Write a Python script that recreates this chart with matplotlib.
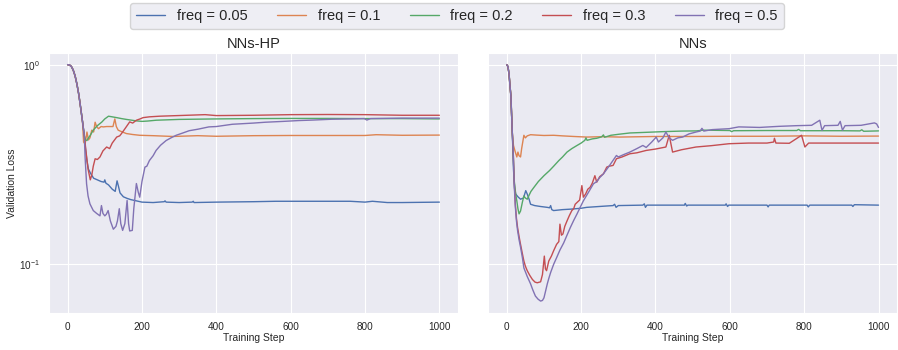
import matplotlib
matplotlib.use("Agg")
import matplotlib.pyplot as plt
import seaborn as sns
from matplotlib.ticker import NullFormatter

sns.set_style("darkgrid")
plt.rcParams["font.family"] = ["Liberation Sans", "DejaVu Sans"]

labels = ["freq = 0.05", "freq = 0.1", "freq = 0.2", "freq = 0.3", "freq = 0.5"]
colors = ["#4C72B0", "#DD8452", "#55A868", "#C44E52", "#8172B3"]
panel_titles = ["NNs-HP", "NNs"]

# ---------------- NNs-HP panel ----------------
hp_steps_005 = [0, 5, 10, 15, 20, 25, 30, 35, 40, 45, 48, 52, 56, 62, 70, 80, 90, 98, 100, 103, 110, 120, 128,
                133, 137, 141, 150, 160, 170, 185, 200, 230, 260, 262, 265, 300, 335, 338, 340, 400, 500, 560,
                600, 700, 760, 800, 820, 860, 900, 1000]
hp_loss_005 = [1.0, 0.997, 0.98, 0.94, 0.88, 0.80, 0.71, 0.61, 0.52, 0.44, 0.38, 0.33, 0.30, 0.285, 0.27, 0.265,
               0.26, 0.258, 0.265, 0.255, 0.25, 0.238, 0.232, 0.262, 0.245, 0.228, 0.218, 0.214, 0.211, 0.208,
               0.205, 0.204, 0.206, 0.208, 0.205, 0.204, 0.205, 0.207, 0.204, 0.205, 0.206, 0.207, 0.207, 0.207,
               0.207, 0.205, 0.207, 0.204, 0.204, 0.205]

hp_steps_01 = [0, 5, 10, 15, 20, 25, 30, 35, 40, 43, 47, 52, 56, 60, 65, 70, 74, 78, 83, 90, 96, 105, 115, 122,
               127, 131, 136, 145, 158, 175, 194, 230, 283, 350, 400, 500, 600, 700, 800, 830, 900, 1000]
hp_loss_01 = [1.0, 0.997, 0.98, 0.94, 0.88, 0.80, 0.71, 0.61, 0.52, 0.41, 0.40, 0.46, 0.42, 0.43, 0.47, 0.46,
              0.515, 0.49, 0.478, 0.49, 0.488, 0.49, 0.49, 0.49, 0.535, 0.49, 0.47, 0.462, 0.452, 0.447, 0.443,
              0.441, 0.437, 0.441, 0.438, 0.441, 0.442, 0.442, 0.442, 0.446, 0.443, 0.444]

hp_steps_02 = [0, 5, 10, 15, 20, 25, 30, 35, 40, 45, 48, 52, 56, 60, 69, 80, 92, 100, 110, 120, 132, 145, 158,
               170, 185, 200, 215, 238, 300, 400, 500, 600, 700, 800, 900, 1000]
hp_loss_02 = [1.0, 0.997, 0.98, 0.94, 0.88, 0.80, 0.71, 0.61, 0.52, 0.44, 0.42, 0.417, 0.43, 0.44, 0.47, 0.495,
              0.516, 0.535, 0.552, 0.548, 0.543, 0.537, 0.532, 0.528, 0.523, 0.52, 0.522, 0.527, 0.532, 0.535,
              0.537, 0.538, 0.538, 0.537, 0.537, 0.535]

hp_steps_03 = [0, 5, 10, 15, 20, 25, 30, 35, 40, 45, 50, 55, 61, 65, 69, 74, 80, 87, 95, 105, 113, 120, 132,
               140, 145, 155, 167, 175, 185, 195, 203, 220, 247, 309, 370, 400, 500, 600, 700, 800, 900, 1000]
hp_loss_03 = [1.0, 0.997, 0.98, 0.94, 0.88, 0.80, 0.71, 0.61, 0.52, 0.44, 0.36, 0.30, 0.265, 0.28, 0.31, 0.338,
              0.335, 0.345, 0.37, 0.387, 0.38, 0.405, 0.434, 0.44, 0.452, 0.48, 0.517, 0.51, 0.527, 0.535, 0.543,
              0.548, 0.552, 0.557, 0.562, 0.556, 0.558, 0.562, 0.563, 0.562, 0.558, 0.558]

hp_steps_05 = [0, 5, 10, 15, 20, 25, 30, 35, 40, 45, 47, 51, 55, 60, 69, 78, 87, 91, 95, 100, 104, 109, 115, 123,
               130, 134, 139, 143, 148, 154, 160, 164, 167, 174, 178, 185, 190, 194, 200, 208, 213, 220, 230, 238,
               250, 265, 280, 292, 310, 327, 350, 380, 400, 443, 500, 532, 580, 622, 660, 710, 760, 798, 805, 815,
               900, 1000]
hp_loss_05 = [1.0, 0.997, 0.98, 0.94, 0.88, 0.80, 0.71, 0.61, 0.52, 0.44, 0.344, 0.253, 0.22, 0.201, 0.186, 0.18,
              0.175, 0.197, 0.18, 0.175, 0.178, 0.186, 0.165, 0.150, 0.155, 0.165, 0.19, 0.16, 0.148, 0.16, 0.209,
              0.16, 0.147, 0.148, 0.19, 0.254, 0.23, 0.217, 0.26, 0.307, 0.31, 0.331, 0.35, 0.372, 0.395, 0.417,
              0.432, 0.443, 0.455, 0.467, 0.475, 0.488, 0.49, 0.503, 0.51, 0.515, 0.52, 0.525, 0.528, 0.533, 0.535,
              0.537, 0.528, 0.537, 0.54, 0.54]

# ---------------- NNs panel ----------------
nn_steps_005 = [0, 3, 6, 9, 11, 13, 15, 18, 21, 24, 30, 37, 45, 51, 55, 60, 64, 75, 90, 109, 115, 118, 121, 126,
                150, 171, 200, 215, 250, 286, 290, 294, 300, 366, 370, 373, 377, 478, 480, 484, 487, 588, 590, 594,
                597, 700, 703, 706, 808, 811, 815, 928, 931, 935, 1000]
nn_loss_005 = [1.0, 0.98, 0.9, 0.77, 0.70, 0.56, 0.45, 0.3, 0.24, 0.225, 0.218, 0.212, 0.215, 0.234, 0.225, 0.212,
               0.2, 0.197, 0.195, 0.193, 0.192, 0.197, 0.188, 0.186, 0.188, 0.189, 0.191, 0.193, 0.195, 0.197, 0.2,
               0.193, 0.197, 0.198, 0.201, 0.193, 0.198, 0.198, 0.202, 0.196, 0.198, 0.198, 0.201, 0.195, 0.198,
               0.198, 0.194, 0.198, 0.198, 0.194, 0.198, 0.198, 0.195, 0.199, 0.198]

nn_steps_01 = [0, 3, 6, 9, 11, 13, 15, 18, 22, 27, 30, 33, 37, 40, 46, 50, 55, 64, 80, 100, 126, 150, 180, 215,
               260, 304, 400, 500, 600, 700, 800, 900, 1000]
nn_loss_01 = [1.0, 0.98, 0.9, 0.77, 0.70, 0.56, 0.45, 0.394, 0.37, 0.345, 0.365, 0.35, 0.345, 0.38, 0.443, 0.43,
              0.44, 0.446, 0.444, 0.442, 0.443, 0.44, 0.437, 0.434, 0.436, 0.434, 0.437, 0.437, 0.438, 0.438, 0.44,
              0.438, 0.439]

nn_steps_02 = [0, 3, 6, 9, 11, 13, 15, 18, 20, 24, 27, 30, 33, 37, 42, 46, 50, 55, 60, 65, 73, 85, 100, 115, 126,
               140, 150, 162, 175, 189, 200, 210, 213, 216, 230, 242, 255, 260, 263, 280, 300, 331, 370, 420, 470,
               510, 530, 600, 605, 610, 700, 780, 785, 790, 900, 950, 955, 960, 1000]
nn_loss_02 = [1.0, 0.98, 0.9, 0.77, 0.70, 0.56, 0.45, 0.33, 0.263, 0.225, 0.208, 0.19, 0.179, 0.185, 0.205, 0.22,
              0.215, 0.212, 0.222, 0.232, 0.243, 0.26, 0.278, 0.295, 0.31, 0.331, 0.345, 0.365, 0.38, 0.394, 0.405,
              0.418, 0.43, 0.418, 0.425, 0.428, 0.435, 0.445, 0.433, 0.443, 0.448, 0.455, 0.458, 0.462, 0.465,
              0.466, 0.47, 0.468, 0.462, 0.467, 0.468, 0.468, 0.474, 0.467, 0.467, 0.466, 0.472, 0.464, 0.466]

nn_steps_03 = [0, 3, 6, 9, 11, 13, 15, 17, 20, 23, 26, 29, 33, 37, 42, 46, 50, 55, 62, 69, 76, 82, 91, 96, 101,
               104, 107, 113, 120, 126, 134, 140, 143, 147, 151, 156, 162, 168, 175, 180, 184, 190, 196, 202, 206,
               212, 218, 224, 230, 237, 242, 250, 260, 269, 275, 286, 295, 310, 331, 350, 375, 400, 428, 437, 446,
               470, 509, 550, 598, 650, 700, 718, 720, 724, 760, 793, 802, 812, 900, 1000]
nn_loss_03 = [1.0, 0.98, 0.9, 0.77, 0.70, 0.56, 0.45, 0.38, 0.26, 0.2, 0.17, 0.153, 0.138, 0.126, 0.113, 0.104,
              0.098, 0.093, 0.088, 0.084, 0.0815, 0.0809, 0.0818, 0.089, 0.11, 0.095, 0.093, 0.104, 0.11, 0.117,
              0.126, 0.13, 0.159, 0.14, 0.142, 0.155, 0.165, 0.175, 0.186, 0.19, 0.2, 0.205, 0.21, 0.248, 0.217,
              0.225, 0.238, 0.243, 0.255, 0.278, 0.258, 0.275, 0.284, 0.307, 0.31, 0.313, 0.338, 0.345, 0.358,
              0.362, 0.372, 0.378, 0.387, 0.443, 0.365, 0.375, 0.387, 0.393, 0.402, 0.405, 0.405, 0.41, 0.428,
              0.405, 0.404, 0.443, 0.387, 0.405, 0.405, 0.405]

nn_steps_05 = [0, 3, 6, 9, 11, 13, 15, 17, 20, 23, 26, 29, 33, 37, 42, 46, 55, 64, 70, 77, 84, 91, 96, 100, 104,
               109, 113, 118, 126, 134, 143, 153, 162, 171, 180, 189, 198, 206, 220, 233, 242, 250, 260, 275, 295,
               300, 315, 331, 350, 366, 375, 390, 402, 408, 420, 428, 437, 446, 460, 473, 490, 509, 520, 525, 530,
               553, 598, 624, 680, 731, 780, 820, 842, 848, 855, 891, 897, 903, 910, 953, 989, 995, 1000]
nn_loss_05 = [1.0, 0.98, 0.9, 0.77, 0.70, 0.56, 0.45, 0.38, 0.25, 0.195, 0.165, 0.148, 0.133, 0.122, 0.108, 0.096,
              0.087, 0.0799, 0.0745, 0.0694, 0.067, 0.0655, 0.066, 0.068, 0.073, 0.0799, 0.085, 0.0911, 0.1, 0.108,
              0.118, 0.128, 0.14, 0.153, 0.166, 0.179, 0.194, 0.208, 0.23, 0.253, 0.26, 0.272, 0.284, 0.31, 0.351,
              0.345, 0.355, 0.365, 0.38, 0.394, 0.385, 0.41, 0.434, 0.41, 0.43, 0.46, 0.43, 0.418, 0.43, 0.434,
              0.45, 0.46, 0.465, 0.48, 0.465, 0.473, 0.478, 0.488, 0.485, 0.491, 0.495, 0.497, 0.527, 0.469, 0.495,
              0.497, 0.52, 0.47, 0.495, 0.497, 0.511, 0.505, 0.485]

hp_series = [(hp_steps_005, hp_loss_005), (hp_steps_01, hp_loss_01), (hp_steps_02, hp_loss_02),
             (hp_steps_03, hp_loss_03), (hp_steps_05, hp_loss_05)]
nn_series = [(nn_steps_005, nn_loss_005), (nn_steps_01, nn_loss_01), (nn_steps_02, nn_loss_02),
             (nn_steps_03, nn_loss_03), (nn_steps_05, nn_loss_05)]

fig, axes = plt.subplots(1, 2, figsize=(8.98, 3.5), dpi=100, sharey=True)
fig.subplots_adjust(left=0.0546, right=0.999, bottom=0.106, top=0.849, wspace=0.074)

for ax, series, title in zip(axes, [hp_series, nn_series], panel_titles):
    for (st, vals), c, lab in zip(series, colors, labels):
        ax.plot(st, vals, color=c, lw=1.0, label=lab)
    ax.set_yscale("log")
    ax.set_title(title, fontsize=10.5, pad=3.5)
    ax.set_xlabel("Training Step", fontsize=7.5, labelpad=1.0)
    ax.set_xticks([0, 200, 400, 600, 800, 1000])
    ax.tick_params(axis="both", labelsize=7.2, pad=3)
    ax.yaxis.set_minor_formatter(NullFormatter())

axes[0].set_ylabel("Validation Loss", fontsize=7.5, labelpad=1.5)

handles, labs = axes[0].get_legend_handles_labels()
fig.legend(handles, labs, loc="upper center", bbox_to_anchor=(0.509, 1.012), ncol=5, fontsize=10.5,
           frameon=True)

fig.savefig("out.png", dpi=100)
